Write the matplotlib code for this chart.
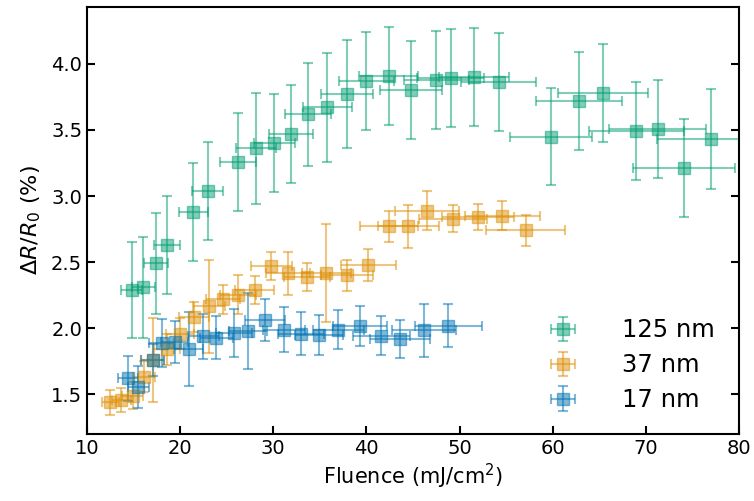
import numpy as np
import matplotlib.pyplot as plt

# 125 nm
x_125 = [14.8, 16.05, 17.4, 18.55, 21.4, 22.95, 26.25, 28.15, 30.08, 31.87, 33.73, 35.8, 37.9, 40.0,
         42.4, 44.8, 47.5, 49.05, 51.55, 54.2, 59.8, 62.85, 65.4, 68.95, 71.3, 74.1, 76.95]
y_125 = [2.29, 2.31, 2.49, 2.63, 2.88, 3.04, 3.255, 3.36, 3.40, 3.47, 3.62, 3.67, 3.77, 3.87,
         3.91, 3.80, 3.88, 3.89, 3.90, 3.86, 3.45, 3.72, 3.78, 3.495, 3.505, 3.21, 3.43]
xerr_125 = [1.1, 1.2, 1.3, 1.4, 1.55, 1.7, 1.93, 2.1, 2.2, 2.35, 2.5, 2.65, 2.8, 2.95,
            3.15, 3.3, 3.5, 3.6, 3.8, 4.0, 4.4, 4.6, 4.85, 5.1, 5.2, 5.5, 5.7]
yerr_125 = [0.36, 0.38, 0.38, 0.37, 0.37, 0.37, 0.37, 0.42, 0.37, 0.37, 0.39, 0.41, 0.41, 0.37,
            0.37, 0.37, 0.37, 0.37, 0.37, 0.37, 0.37, 0.37, 0.37, 0.37, 0.37, 0.37, 0.38]

# 37 nm
x_37 = [12.5, 13.7, 14.9, 16.1, 17.05, 18.6, 20.0, 21.5, 23.1, 24.65, 26.25, 28.0, 29.8, 31.6,
        33.6, 35.7, 37.9, 40.2, 42.4, 44.5, 46.5, 49.3, 52.0, 54.6, 57.1]
y_37 = [1.44, 1.455, 1.49, 1.635, 1.76, 1.84, 1.96, 2.085, 2.165, 2.22, 2.255, 2.29, 2.47, 2.415,
        2.385, 2.42, 2.40, 2.48, 2.77, 2.77, 2.89, 2.83, 2.84, 2.85, 2.74]
xerr_37 = [0.92, 1.0, 1.1, 1.2, 1.26, 1.38, 1.48, 1.6, 1.7, 1.82, 1.94, 2.07, 2.2, 2.34,
           2.49, 2.64, 2.8, 2.97, 3.14, 3.29, 3.44, 3.65, 3.85, 4.04, 4.23]
yerr_37 = [0.095, 0.09, 0.1, 0.12, 0.32, 0.12, 0.12, 0.11, 0.35, 0.11, 0.145, 0.105, 0.105, 0.16,
           0.105, 0.37, 0.12, 0.12, 0.12, 0.16, 0.145, 0.105, 0.10, 0.11, 0.12]

# 17 nm
x_17 = [14.4, 15.5, 17.05, 18.0, 19.4, 20.9, 22.5, 23.9, 25.8, 27.3, 29.1, 31.15, 33.0, 34.95,
        37.0, 39.3, 41.6, 43.6, 46.2, 48.8]
y_17 = [1.62, 1.555, 1.76, 1.89, 1.895, 1.84, 1.94, 1.93, 1.965, 1.98, 2.06, 1.99, 1.96, 1.95,
        1.99, 2.015, 1.945, 1.92, 1.985, 2.02]
xerr_17 = [1.07, 1.15, 1.26, 1.33, 1.44, 1.55, 1.67, 1.77, 1.91, 2.02, 2.15, 2.3, 2.44, 2.59,
           2.74, 2.91, 3.08, 3.23, 3.42, 3.6]
yerr_17 = [0.17, 0.16, 0.12, 0.18, 0.16, 0.28, 0.17, 0.16, 0.18, 0.29, 0.16, 0.17, 0.16, 0.15,
           0.15, 0.15, 0.15, 0.145, 0.2, 0.16]

fig = plt.figure(figsize=(7.54, 5.01), dpi=100)
ax = fig.add_axes([0.1154, 0.1337, 0.8646, 0.8523])

kw = dict(fmt='s', ms=9, alpha=0.5, capsize=3.5, elinewidth=1.5, capthick=1.5)
ax.errorbar(x_125, y_125, xerr=xerr_125, yerr=yerr_125, color='#029e73', label='125 nm', **kw)
ax.errorbar(x_37, y_37, xerr=xerr_37, yerr=yerr_37, color='#de8f05', label='37 nm', **kw)
ax.errorbar(x_17, y_17, xerr=xerr_17, yerr=yerr_17, color='#0173b2', label='17 nm', **kw)

ax.set_xlim(10, 80)
ax.set_ylim(1.2, 4.43)
ax.set_yticks([1.5, 2.0, 2.5, 3.0, 3.5, 4.0])
ax.set_xlabel('Fluence (mJ/cm$^2$)', fontsize=15, labelpad=3)
ax.set_ylabel(r'$\Delta R/R_0$ (%)', fontsize=16, labelpad=6)
ax.tick_params(direction='in', length=6, width=1.5, labelsize=14, right=True, top=False)
for s in ax.spines.values():
    s.set_linewidth(1.5)

ax.legend(loc='lower right', frameon=False, fontsize=17.5, bbox_to_anchor=(0.997, 0.0),
          handletextpad=1.45, labelspacing=0.45)

fig.savefig('out.png', dpi=100)
